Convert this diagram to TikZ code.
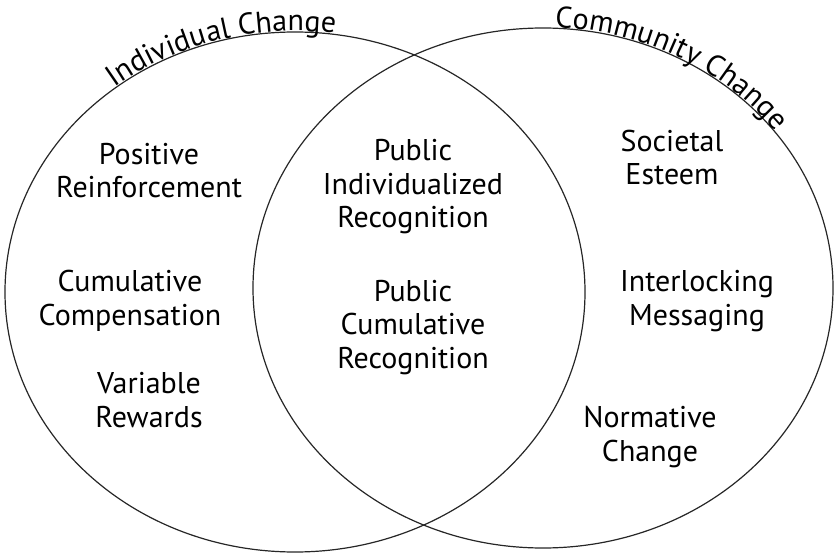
\documentclass[tikz,border=0pt]{standalone}
\usepackage{fontspec}
\setmainfont{PT Sans}
\usetikzlibrary{decorations.text}

\newcommand{\vennsize}{\fontsize{30}{33.5}\selectfont}

\begin{document}
\begin{tikzpicture}[
    x=1pt, y=1pt,
    every node/.style={
        align=center,
        anchor=base,
        inner sep=0pt,
        font=\vennsize
    },
    ring/.style={
        draw=black!85,
        line width=1.2pt
    },
    title/.style={
        decorate,
        decoration={
            text along path,
            text={|\vennsize|#1},
            text align=center,
            raise=1pt
        }
    }
]
\useasboundingbox (0,0) rectangle (835,-553);

% circles
\draw[ring] (295,-292) ellipse [x radius=290, y radius=260];
\draw[ring] (543,-288) ellipse [x radius=290, y radius=260];

% titles along the top arcs
\path[title=Individual Change] (295,-292) ++(160:290 and 260)
    arc [start angle=160, end angle=52, x radius=290, y radius=260];
\path[title=Community Change] (543,-288) ++(116:290 and 260)
    arc [start angle=116, end angle=6, x radius=290, y radius=260];

% individual (last baseline)
\node (pos) at (149,-198) {Positive\\Reinforcement};
\node (cum) at (130,-325) {Cumulative\\Compensation};
\node (var) at (149,-427) {Variable\\Rewards};

% overlap
\node (pir) at (413,-228) {Public\\Individualized\\Recognition};
\node (pcr) at (413,-368) {Public\\Cumulative\\Recognition};

% community
\node (soc) at (672,-185) {Societal\\Esteem};
\node (int) at (697,-325) {Interlocking\\Messaging};
\node (nor) at (650,-461) {Normative\\Change};

\end{tikzpicture}
\end{document}
